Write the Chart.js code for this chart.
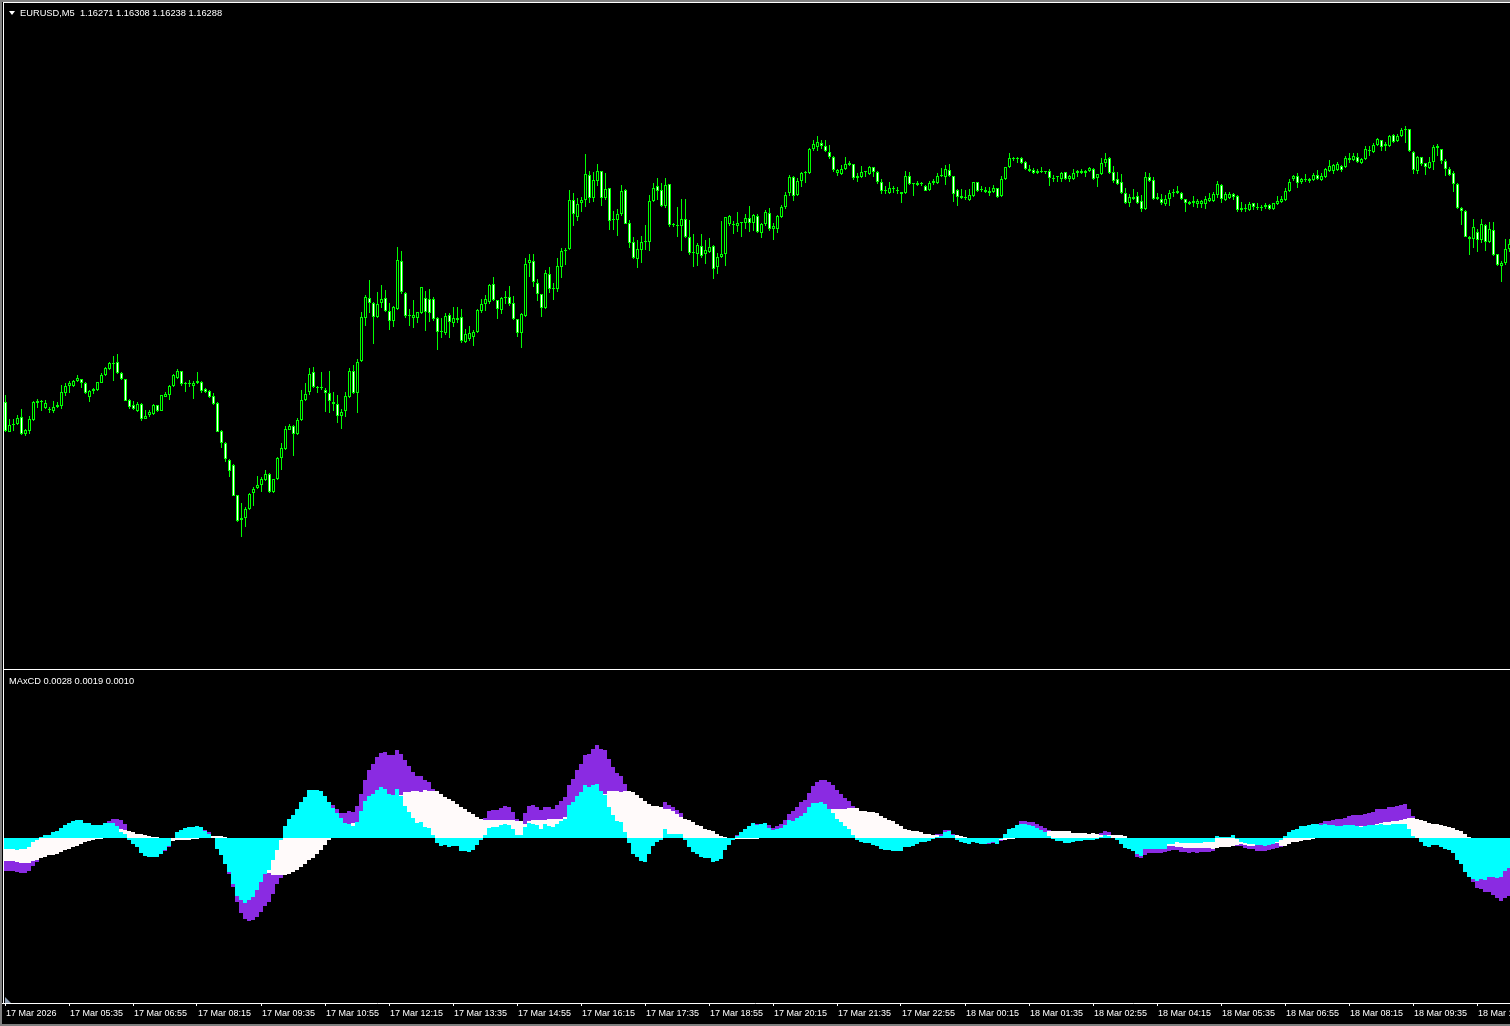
<!DOCTYPE html>
<html>
<head>
<meta charset="utf-8">
<title>EURUSD,M5 - MAxCD</title>
<script src="https://cdn.jsdelivr.net/npm/chart.js@4.4.1/dist/chart.umd.min.js"></script>
<style>
  body { margin: 0; background: #000; }
  #wrap { position: relative; width: 1510px; height: 1026px; overflow: hidden; background: #000; font-family: 'Liberation Sans', Arial, sans-serif; }
  canvas { position: absolute; left: 0; }
  .line { position: absolute; }
  .label { position: absolute; color: #fff; font-size: 9.3px; line-height: 11px; white-space: pre; }
</style>
</head>
<body>
<div id="wrap">
  <canvas id="priceChart" width="1510" height="668" style="top:0"></canvas>
  <canvas id="macdChart" width="1510" height="356" style="top:670px"></canvas>

  <!-- window frame -->
  <div class="line" style="left:0;top:0;width:2px;height:1026px;background:#808080"></div>
  <div class="line" style="left:3px;top:2px;width:1px;height:1001px;background:#ffffff"></div>
  <div class="line" style="left:0;top:0;width:1510px;height:2px;background:#808080"></div>
  <div class="line" style="left:3px;top:2px;width:1507px;height:1px;background:#ffffff"></div>
  <div class="line" style="left:3px;top:669px;width:1507px;height:1px;background:#ffffff"></div>
  <div class="line" style="left:0;top:1024px;width:1510px;height:2px;background:#808080"></div>
  <div style="position:absolute;left:5px;top:997px;width:0;height:0;border-top:6px solid transparent;border-left:6px solid #8c9cb0"></div>

  <div style="position:absolute;left:9px;top:11px;width:0;height:0;border-left:3px solid transparent;border-right:3px solid transparent;border-top:4px solid #fff"></div>
  <div class="label" style="left:20px;top:8px">EURUSD,M5  1.16271 1.16308 1.16238 1.16288</div>
  <div class="label" style="left:9px;top:676px">MAxCD 0.0028 0.0019 0.0010</div>
</div>

<script>
// price offsets: price = 1.15700 + pts * 0.00002
const openPts = [
  138,108,115,116,123,106,109,120,137,138, 132,131,129,133,134,147,154,154,159,161,
  157,143,149,150,157,165,171,176,178,167, 161,140,135,129,136,121,125,126,135,129,
  143,145,154,162,169,156,157,154,157,158, 151,149,144,137,109,97,80,75,45,20,
  22,31,47,52,55,60,66,48,61,82, 91,110,114,106,120,140,148,168,153,152,
  150,147,138,136,124,129,143,169,147,179, 222,242,237,223,237,242,229,219,231,279,
  247,224,222,222,227,242,241,241,222,208, 207,225,217,220,223,198,201,203,208,229,
  236,238,256,240,230,242,243,237,221,207, 224,277,279,257,246,232,266,251,251,273,
  289,291,340,323,337,340,365,342,359,369, 342,352,320,320,326,350,317,298,281,290,
  298,298,339,354,350,334,356,316,315,314, 321,303,287,286,294,286,288,294,273,283,
  286,316,316,314,317,317,322,317,324,307, 316,327,311,311,323,333,347,363,345,359,
  367,367,391,393,397,394,388,383,367,366, 371,375,376,362,363,368,366,373,368,358,
  349,347,351,350,346,347,364,356,355,357, 354,350,357,357,364,363,370,364,350,344,
  342,340,344,358,350,350,349,348,352,344, 361,373,382,381,382,378,371,370,367,369,
  368,369,361,363,361,368,361,361,367,369, 367,369,371,362,366,377,382,368,361,358,
  347,337,343,344,339,331,363,360,341,341, 336,341,347,347,347,341,336,337,336,336,
  336,339,339,345,355,340,342,346,344,330, 332,330,337,333,332,333,335,331,336,338,
  340,349,361,364,358,360,359,360,365,360, 363,369,369,370,374,373,380,380,383,377,
  381,389,388,395,400,394,394,405,399,404, 410,411,388,369,383,377,372,378,392,391,
  379,371,367,356,332,329,303,301,308,300, 315,298,310,286,274,277,291
];
const highPts = [
  145,121,121,125,131,111,124,139,141,140, 140,133,139,138,155,157,159,160,165,161,
  158,150,152,158,167,173,178,184,186,168, 161,141,139,138,137,130,130,136,135,145,
  148,155,166,171,169,158,160,159,168,159, 152,150,147,138,110,98,81,76,45,37,
  33,47,53,64,63,70,67,61,83,97, 114,116,115,122,150,157,172,173,154,168,
  152,169,148,145,131,148,172,175,181,228, 245,260,238,248,255,250,237,234,293,289,
  248,231,240,228,253,249,251,243,223,222, 227,227,233,233,231,211,214,210,231,241,
  245,256,263,240,243,249,254,244,221,227, 282,286,286,261,246,270,273,257,282,292,
  292,350,347,342,343,386,369,368,376,369, 367,352,329,331,355,351,320,303,300,304,
  315,345,357,362,357,362,356,317,333,341, 341,320,306,297,306,300,302,295,287,319,
  323,325,319,328,318,326,334,326,326,317, 330,332,317,325,335,348,365,364,362,368,
  369,392,400,404,400,400,395,384,371,375, 383,379,376,367,374,368,374,373,369,361,
  354,358,354,353,348,369,368,356,359,358, 355,359,361,367,372,375,376,364,351,351,
  350,351,358,358,354,353,353,355,352,364, 373,387,383,383,383,379,375,372,371,373,
  369,371,365,364,368,368,365,371,370,371, 370,373,372,366,382,387,383,374,368,366,
  352,346,351,348,345,368,367,363,347,346, 345,350,351,354,348,341,339,344,341,340,
  344,347,348,359,356,348,348,347,345,338, 336,338,337,337,335,337,336,337,344,344,
  352,361,365,367,362,366,362,367,370,367, 372,380,376,378,375,384,387,387,387,382,
  394,394,397,402,400,398,405,406,406,412, 414,411,389,384,383,377,383,395,396,391,
  381,373,369,357,333,330,304,321,311,321, 316,318,318,286,279,301,301
];
const lowPts = [
  108,108,109,115,105,104,106,119,132,129, 131,127,127,132,131,144,147,153,158,152,
  146,138,146,149,157,164,170,159,166,160, 139,131,130,128,119,121,123,125,128,129,
  143,140,153,161,154,148,153,141,156,147, 147,142,135,108,92,78,63,44,18,3,
  13,30,34,51,48,59,47,47,60,70, 90,110,84,105,119,139,145,152,147,150,
  128,127,129,117,111,123,142,146,127,178, 214,227,196,222,232,228,210,213,230,246,
  222,214,212,217,226,209,218,219,190,202, 205,202,213,217,197,197,199,194,207,227,
  229,236,239,221,226,236,234,220,203,192, 223,263,253,239,223,231,247,240,248,262,
  275,290,314,319,328,333,337,338,354,334, 340,310,310,304,324,316,292,281,272,277,
  290,289,338,340,333,332,313,313,303,289, 302,285,273,274,282,276,287,261,266,282,
  274,314,306,308,303,311,308,309,307,302, 314,309,300,307,322,331,344,339,344,353,
  357,366,389,389,391,388,381,368,364,365, 370,374,360,358,362,363,365,363,356,346,
  346,346,347,346,337,346,355,344,354,354, 349,349,355,356,363,355,363,338,334,341,
  340,339,343,348,348,347,344,347,342,343, 360,372,379,377,376,370,368,366,366,367,
  366,354,358,358,358,360,358,360,363,366, 363,368,360,353,365,373,366,357,355,346,
  336,333,340,336,328,330,358,340,340,335, 334,334,343,346,340,328,335,333,332,332,
  331,338,338,342,337,339,341,340,328,328, 328,329,330,330,329,331,330,330,335,337,
  339,348,359,352,356,358,357,359,360,359, 362,368,366,369,368,372,377,379,377,376,
  380,384,387,394,389,389,393,397,398,403, 397,388,366,366,374,365,371,370,384,376,
  364,364,348,331,315,303,285,292,288,297, 289,297,284,274,258,275,288
];
const closePts = [
  109,115,115,122,106,110,121,138,139,138, 137,130,133,135,148,154,157,159,162,157,
  147,149,151,158,165,172,177,176,167,161, 139,133,131,136,121,124,128,135,129,145,
  146,154,165,169,156,157,156,157,159,149, 148,143,136,108,97,81,69,44,19,22,
  31,46,51,55,61,66,48,61,82,92, 111,114,106,120,140,146,166,153,152,153,
  147,139,136,124,128,144,169,147,178,223, 243,237,223,236,241,229,219,233,280,248,
  224,225,225,228,253,228,227,221,208,208, 224,218,222,222,199,206,207,208,230,236,
  241,255,240,231,242,243,236,221,207,226, 276,280,258,246,232,267,251,251,274,289,
  289,340,326,336,340,366,342,360,369,342, 351,319,320,326,349,316,297,282,291,298,
  299,339,352,349,334,355,315,315,314,321, 303,287,287,295,284,290,293,271,283,286,
  323,324,315,317,317,322,317,325,308,316, 328,311,314,324,333,345,363,344,359,367,
  367,391,396,398,394,389,383,370,370,371, 376,377,362,364,368,368,373,368,358,349,
  349,352,351,349,348,364,356,356,357,356, 349,357,359,364,365,371,364,346,343,342,
  342,345,358,349,351,348,347,352,343,361, 373,382,381,382,377,371,369,367,369,368,
  368,362,362,364,367,361,364,367,369,367, 369,372,361,366,377,381,367,359,356,347,
  337,343,341,337,331,363,359,341,343,337, 341,347,348,349,341,337,338,339,339,339,
  341,342,346,356,341,346,346,343,330,332, 331,336,333,332,333,335,331,337,339,341,
  349,358,364,357,361,361,361,365,361,364, 371,374,375,376,370,382,382,384,378,381,
  391,390,395,401,393,396,404,398,404,410, 411,389,370,383,376,373,378,393,394,379,
  371,365,356,332,329,303,301,313,300,316, 298,311,285,275,277,291,296
];

// MAxCD histograms, in points (0.00001)
const histFast = [
  -11,-11,-11,-12,-11,-11,-9,-4,-2,1, 3,3,6,7,10,13,15,17,18,18,
  15,15,13,13,13,15,15,15,12,6, 4,-2,-6,-9,-15,-18,-19,-19,-19,-16,
  -12,-8,0,6,8,10,11,11,12,11, 7,4,0,-11,-17,-26,-34,-46,-58,-62,
  -65,-62,-59,-52,-44,-36,-32,-22,-12,-2, 12,19,23,29,36,41,48,48,48,47,
  42,36,30,25,20,15,14,12,16,27, 37,42,44,48,51,49,44,43,49,42,
  32,26,20,15,16,11,10,3,-5,-8, -7,-9,-8,-8,-13,-13,-14,-12,-7,-2,
  3,10,11,11,13,14,13,9,3,3, 11,15,14,13,9,14,12,11,14,17,
  19,33,36,42,46,53,51,53,54,47, 43,31,23,17,16,6,-5,-16,-19,-23,
  -24,-16,-8,-4,-2,9,4,4,4,4, -2,-9,-14,-16,-19,-20,-20,-24,-23,-21,
  -12,-7,-2,2,6,9,12,15,13,14, 15,10,8,9,10,13,18,17,20,22,
  25,31,35,35,36,34,29,25,19,16, 12,9,3,-2,-4,-5,-5,-7,-8,-11,
  -12,-12,-13,-13,-13,-9,-9,-8,-6,-4, -4,-3,-1,1,2,6,7,3,-2,-4,
  -5,-6,-4,-5,-6,-6,-5,-4,-6,-1, 4,9,10,13,14,14,13,12,10,8,
  6,2,-1,-3,-3,-5,-5,-4,-3,-3, -2,-2,-2,-1,1,3,2,0,-2,-6,
  -10,-11,-13,-16,-18,-11,-11,-11,-11,-11, -11,-6,-6,-4,-5,-5,-5,-5,-5,-5,
  -4,-4,-4,2,1,1,1,3,-1,-4, -5,-6,-6,-7,-7,-8,-7,-6,-4,-2,
  2,6,8,9,12,12,13,14,14,13, 14,13,13,12,12,13,13,13,12,11,
  12,13,13,13,14,13,13,14,14,14, 14,9,2,0,-4,-8,-9,-7,-7,-9,
  -11,-12,-15,-22,-26,-34,-39,-41,-43,-41, -42,-39,-39,-40,-39,-33,-30
];
const histSlow = [
  -23,-23,-23,-24,-25,-25,-25,-23,-22,-20, -19,-17,-17,-16,-14,-12,-11,-9,-8,-6,
  -4,-3,-2,-1,-1,0,1,3,5,9, 8,7,6,4,4,3,2,1,1,0,
  0,-1,-3,-2,-2,-2,-2,-1,-1,0, 1,1,2,2,2,1,0,-1,-3,-8,
  -14,-20,-24,-28,-31,-34,-35,-37,-37,-37, -37,-36,-34,-32,-29,-26,-22,-20,-16,-12,
  -7,-2,0,4,5,10,13,15,16,17, 21,26,30,33,34,37,39,40,40,43,
  46,46,47,47,46,48,47,47,47,44, 41,39,37,34,31,29,26,24,21,19,
  18,18,18,18,18,18,18,18,17,17, 14,17,18,18,18,18,19,19,19,19,
  21,21,21,22,24,27,30,34,38,41, 44,47,47,47,46,47,47,46,43,40,
  37,34,32,32,31,29,29,27,24,21, 19,18,16,13,12,9,8,7,4,2,
  1,0,0,-1,-1,-1,-1,-1,-1,0, 0,2,2,3,4,5,6,8,10,13,
  15,16,18,20,22,25,27,29,29,29, 29,30,30,30,27,27,26,26,25,22,
  20,18,17,14,12,9,8,7,7,6, 4,4,3,3,2,2,1,1,3,2,
  1,0,0,0,0,0,-1,-1,-1,-2, -2,-1,-1,0,1,2,2,3,3,4,
  4,7,7,7,7,7,7,5,5,5, 5,4,5,4,3,3,3,3,3,3,
  2,0,0,-1,-2,-3,-4,-4,-4,-4, -3,-8,-8,-9,-9,-10,-10,-10,-10,-10,
  -10,-10,-11,-10,-9,-9,-9,-8,-7,-6, -7,-8,-8,-7,-7,-7,-6,-5,-5,-8,
  -8,-6,-4,-4,-3,-2,-2,-1,0,2, 3,4,5,7,7,8,9,10,11,12,
  12,12,13,14,15,16,16,17,17,18, 19,20,20,19,18,17,15,14,14,13,
  12,11,10,8,7,4,1,-3,-6,-10, -12,-15,-18,-20,-23,-25,-27
];
const histTotal = [
  -33,-33,-33,-34,-35,-35,-33,-28,-24,-19, -16,-14,-11,-9,-4,1,4,8,10,12,
  11,12,11,12,12,15,17,19,19,18, 14,5,0,-5,-11,-15,-17,-18,-18,-16,
  -13,-9,-3,4,6,8,9,10,11,11, 8,6,2,-9,-15,-25,-36,-49,-64,-75,
  -81,-83,-82,-79,-74,-68,-64,-56,-46,-40, -25,-17,-11,-3,7,15,26,28,32,35,
  36,36,33,29,25,25,27,26,32,44, 58,68,74,81,85,86,83,83,88,84,
  78,72,66,62,62,58,56,49,42,36, 34,30,28,26,18,16,12,12,14,17,
  20,27,28,28,30,32,31,26,19,17, 25,32,33,31,28,31,31,29,33,37,
  41,53,59,68,74,83,84,89,93,89, 88,79,71,65,62,54,44,32,24,17,
  13,18,24,28,29,36,33,31,28,25, 17,9,2,-3,-7,-11,-12,-17,-19,-19,
  -12,-7,-2,3,5,8,11,14,14,14, 15,13,10,12,14,18,24,27,31,36,
  38,45,52,56,58,58,56,53,48,44, 40,37,32,28,23,22,21,19,17,11,
  8,6,4,1,-1,0,-1,-1,1,2, 0,1,2,4,4,8,8,4,1,-2,
  -4,-5,-4,-5,-6,-6,-6,-5,-6,-3, 2,8,9,13,17,17,16,16,14,12,
  10,8,6,4,4,2,2,1,2,2, 3,2,3,3,5,7,6,3,1,-3,
  -8,-11,-13,-19,-20,-17,-15,-15,-15,-15, -14,-13,-12,-12,-14,-14,-15,-14,-15,-14,
  -14,-14,-13,-8,-8,-8,-8,-5,-8,-8, -10,-11,-11,-13,-13,-13,-12,-11,-10,-9,
  -6,0,4,5,9,10,11,13,14,15, 17,17,18,19,19,20,22,23,23,23,
  24,25,26,29,29,29,31,31,32,33, 34,29,22,19,14,9,6,7,7,4,
  1,-1,-5,-14,-19,-30,-38,-44,-50,-51, -54,-54,-57,-60,-63,-60,-58
];

// time axis labels, one every 16 bars (80 minutes of M5)
const tickLabels = [
  '17 Mar 2026', '17 Mar 05:35', '17 Mar 06:55', '17 Mar 08:15', '17 Mar 09:35', '17 Mar 10:55',
  '17 Mar 12:15', '17 Mar 13:35', '17 Mar 14:55', '17 Mar 16:15', '17 Mar 17:35', '17 Mar 18:55',
  '17 Mar 20:15', '17 Mar 21:35', '17 Mar 22:55', '18 Mar 00:15', '18 Mar 01:35', '18 Mar 02:55',
  '18 Mar 04:15', '18 Mar 05:35', '18 Mar 06:55', '18 Mar 08:15', '18 Mar 09:35', '18 Mar 10:55'
];

const toPrice = v => +(1.157 + v * 0.00002).toFixed(5);
const toMacd = v => v / 100000;
const idx = closePts.map((_, i) => i);
const lime = '#00ff00';

const bodies = idx.map(i => ({ x: i, y: [toPrice(openPts[i]), toPrice(closePts[i])] }));
const wicks = idx.map(i => ({ x: i, y: [toPrice(lowPts[i]), toPrice(highPts[i])] }));
const bodyFill = idx.map(i => closePts[i] >= openPts[i] ? '#000000' : '#ffffff');

const common = {
  responsive: false,
  animation: false,
  devicePixelRatio: 1,
  events: [],
  plugins: { legend: { display: false }, tooltip: { enabled: false } }
};

new Chart(document.getElementById('priceChart'), {
  type: 'bar',
  data: {
    datasets: [
      { label: 'body', data: bodies, backgroundColor: bodyFill, borderColor: lime, borderWidth: 1,
        borderSkipped: false, barThickness: 3, minBarLength: 1, grouped: false, inflateAmount: 0 },
      { label: 'wick', data: wicks, backgroundColor: lime, borderWidth: 0,
        barThickness: 1, grouped: false, inflateAmount: 0 }
    ]
  },
  options: {
    ...common,
    layout: { padding: 0 },
    scales: {
      x: { type: 'linear', display: false, offset: false, min: -1.375, max: 376.125 },
      y: { display: false, min: toPrice(-128), max: toPrice(540) }
    }
  }
});

function histSet(label, values, color) {
  return {
    label: label,
    data: idx.map(i => ({ x: i, y: toMacd(values[i]) })),
    backgroundColor: color,
    borderWidth: 0,
    barThickness: 4,
    grouped: false,
    inflateAmount: 0
  };
}

const tickBars = tickLabels.map((_, k) => k * 16);

new Chart(document.getElementById('macdChart'), {
  type: 'bar',
  data: {
    datasets: [
      histSet('fast', histFast, '#00ffff'),
      histSet('slow', histSlow, '#fffafa'),
      histSet('total', histTotal, '#8a2be2')
    ]
  },
  options: {
    ...common,
    layout: { padding: { top: 1, left: 0, right: 0, bottom: 0 } },
    scales: {
      x: {
        type: 'linear',
        offset: false,
        min: -1.25,
        max: 376.25,
        afterBuildTicks: s => { s.ticks = tickBars.map(v => ({ value: v })); },
        afterFit: s => { s.height = 23; s.paddingLeft = 0; s.paddingRight = 0; },
        grid: { display: true, drawOnChartArea: false, drawTicks: true, tickLength: 3, color: '#ffffff', offset: false },
        border: { display: true, color: '#ffffff', width: 1 },
        ticks: {
          autoSkip: false, maxRotation: 0, minRotation: 0, align: 'start',
          padding: 2, labelOffset: 1, color: '#ffffff',
          font: { family: 'Liberation Sans', size: 9 },
          callback: v => tickLabels[v / 16]
        }
      },
      y: { display: false, min: toMacd(-165), max: toMacd(167) }
    }
  }
});
</script>
</body>
</html>
